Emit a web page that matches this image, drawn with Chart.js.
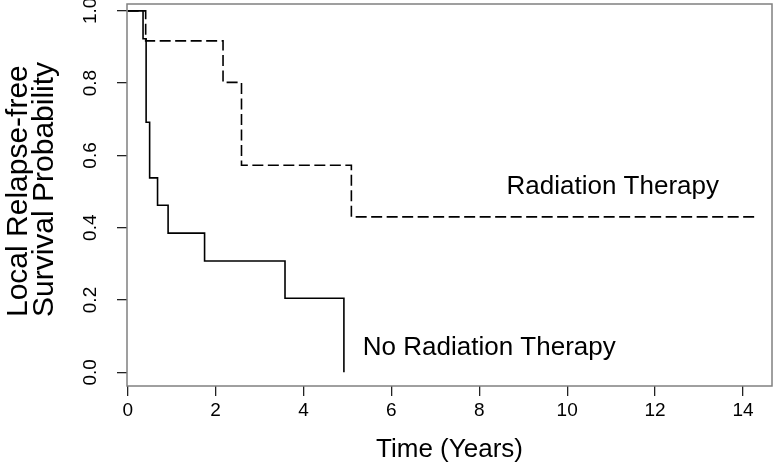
<!DOCTYPE html>
<html>
<head>
<meta charset="utf-8">
<script src="https://cdn.jsdelivr.net/npm/chart.js@4.4.0/dist/chart.umd.min.js"></script>
<style>
  html, body { margin: 0; padding: 0; background: #fff; }
  #wrap { width: 774px; height: 474px; }
</style>
</head>
<body>
<div id="wrap"><canvas id="kmChart"></canvas></div>
<script>
// Kaplan-Meier steps: time (years) and survival probability
const rtTime = [0, 0.41, 2.17, 2.59, 5.09, 14.27];
const rtSurv = [1.0, 0.917, 0.802, 0.573, 0.430, 0.430];
const noRtTime = [0, 0.35, 0.42, 0.50, 0.68, 0.92, 1.75, 3.58, 4.92];
const noRtSurv = [1.0, 0.923, 0.692, 0.538, 0.462, 0.385, 0.308, 0.205, 0.0];

const xTicks = [0, 2, 4, 6, 8, 10, 12, 14];
const yTicks = [0, 0.2, 0.4, 0.6, 0.8, 1.0];
const curveLabels = ["Radiation Therapy", "No Radiation Therapy"];
const yTitleLines = ["Local Relapse-free", "Survival Probability"];
const xTitle = "Time (Years)";

const FONT = "'Liberation Sans', Arial, sans-serif";

const toPoints = (xs, ys) => xs.map((x, i) => ({ x: x, y: ys[i] }));

// grey box round the plot, curve labels and the two-line y title
const extras = {
  id: "extras",
  afterDraw(chart) {
    const { ctx, chartArea: a, scales } = chart;
    ctx.save();
    ctx.strokeStyle = "#808080";
    ctx.lineWidth = 1.5;
    ctx.strokeRect(a.left, a.top, a.right - a.left, a.bottom - a.top);

    ctx.fillStyle = "#000";
    ctx.font = "26px " + FONT;
    ctx.textAlign = "left";
    ctx.textBaseline = "middle";
    ctx.fillText(curveLabels[0], scales.x.getPixelForValue(8.62), scales.y.getPixelForValue(0.512));
    ctx.fillText(curveLabels[1], scales.x.getPixelForValue(5.35), scales.y.getPixelForValue(0.068));

    ctx.font = "30px " + FONT;
    const lineX = [18.5, 45];
    yTitleLines.forEach((line, i) => {
      ctx.save();
      ctx.translate(lineX[i], 317);
      ctx.rotate(-Math.PI / 2);
      ctx.fillText(line, 0, 0);
      ctx.restore();
    });
    ctx.restore();
  }
};

const ctx = document.getElementById("kmChart").getContext("2d");
new Chart(ctx, {
  type: "scatter",
  data: {
    datasets: [
      {
        label: curveLabels[0],
        data: toPoints(rtTime, rtSurv),
        showLine: true,
        stepped: true,
        borderColor: "#000",
        borderWidth: 1.6,
        borderDash: [11, 4.5],
        pointRadius: 0,
        fill: false
      },
      {
        label: curveLabels[1],
        data: toPoints(noRtTime, noRtSurv),
        showLine: true,
        stepped: true,
        borderColor: "#000",
        borderWidth: 1.6,
        pointRadius: 0,
        fill: false
      }
    ]
  },
  options: {
    responsive: true,
    maintainAspectRatio: false,
    animation: false,
    layout: { padding: { top: 4, right: 2, left: 0, bottom: 0 } },
    plugins: {
      legend: { display: false },
      tooltip: { enabled: false }
    },
    scales: {
      x: {
        type: "linear",
        min: -0.015,
        max: 14.66,
        afterBuildTicks: (s) => { s.ticks = xTicks.map(v => ({ value: v })); },
        afterFit: (s) => { s.height = 88; s.paddingLeft = 0; s.paddingRight = 0; },
        border: { display: false },
        grid: { drawOnChartArea: false, tickLength: 10, color: "#222", lineWidth: 1.3 },
        ticks: {
          color: "#000",
          padding: 3,
          maxRotation: 0,
          font: { family: FONT, size: 19 },
          callback: (v) => String(v)
        },
        title: {
          display: true,
          text: xTitle,
          color: "#000",
          padding: { top: 0, bottom: 9 },
          font: { family: FONT, size: 26 }
        }
      },
      y: {
        type: "linear",
        min: -0.038,
        max: 1.019,
        afterBuildTicks: (s) => { s.ticks = yTicks.map(v => ({ value: v })); },
        afterFit: (s) => { s.width = 127; s.paddingTop = 0; s.paddingBottom = 0; },
        border: { display: false },
        grid: { drawOnChartArea: false, tickLength: 10, color: "#222", lineWidth: 1.3 },
        ticks: {
          color: "#000",
          padding: 13,
          minRotation: 90,
          maxRotation: 90,
          crossAlign: "center",
          font: { family: FONT, size: 19 },
          callback: (v) => v.toFixed(1)
        }
      }
    }
  },
  plugins: [extras]
});
</script>
</body>
</html>
